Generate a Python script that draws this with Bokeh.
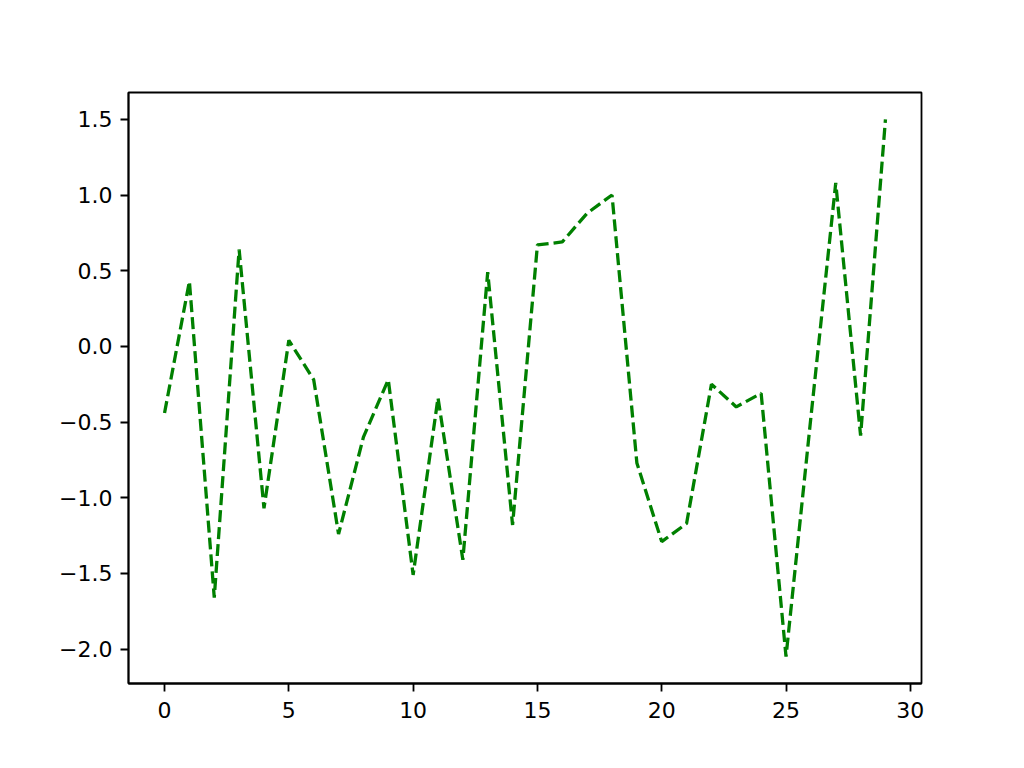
from bokeh.plotting import figure
from bokeh.models import FixedTicker, Range1d
from bokeh.embed import file_html
from bokeh.resources import INLINE

x_values = list(range(30))
y_values = [-0.44, 0.43, -1.66, 0.64, -1.07, 0.04, -0.22, -1.24, -0.60, -0.22,
            -1.51, -0.34, -1.41, 0.49, -1.18, 0.67, 0.69, 0.88, 1.00, -0.77,
            -1.29, -1.17, -0.25, -0.40, -0.31, -2.05, -0.47, 1.08, -0.59, 1.50]
x_ticks = [0, 5, 10, 15, 20, 25, 30]
y_ticks = [-2.0, -1.5, -1.0, -0.5, 0.0, 0.5, 1.0, 1.5]
y_tick_labels = ["\u22122.0", "\u22121.5", "\u22121.0", "\u22120.5", "0.0", "0.5", "1.0", "1.5"]

p = figure(frame_width=793, frame_height=591, output_backend="svg",
           toolbar_location=None,
           x_range=Range1d(-1.45, 30.45), y_range=Range1d(-2.2275, 1.6775),
           min_border_left=128, min_border_right=87,
           min_border_top=92, min_border_bottom=67)
p.background_fill_color = "white"
p.border_fill_color = "white"
p.outline_line_color = "black"
p.outline_line_width = 1.8
p.xgrid.visible = False
p.ygrid.visible = False

p.line(x_values, y_values, line_color="#008000", line_width=3.3, line_dash="12 5")

for ax in (p.xaxis[0], p.yaxis[0]):
    ax.axis_line_color = "black"
    ax.axis_line_width = 1.8
    ax.major_tick_line_color = "black"
    ax.major_tick_line_width = 1.8
    ax.major_tick_out = 8
    ax.major_tick_in = 0
    ax.minor_tick_line_color = None
    ax.major_label_text_font = "DejaVu Sans"
    ax.major_label_text_font_size = "22px"
    ax.major_label_text_color = "black"
    ax.major_label_standoff = 8

p.xaxis[0].major_label_standoff = 10
p.xaxis[0].ticker = FixedTicker(ticks=x_ticks)
p.yaxis[0].ticker = FixedTicker(ticks=y_ticks)
p.xaxis[0].major_label_overrides = {t: str(t) for t in x_ticks}
p.yaxis[0].major_label_overrides = {t: l for t, l in zip(y_ticks, y_tick_labels)}

open("out.html", "w").write(file_html(p, INLINE))
